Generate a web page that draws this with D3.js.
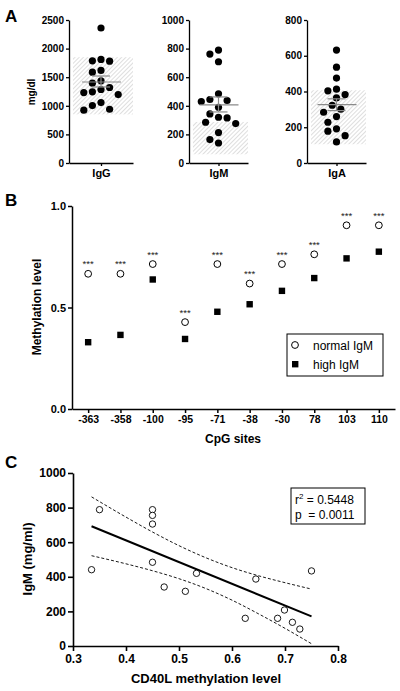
<!DOCTYPE html>
<html><head><meta charset="utf-8">
<script src="https://cdn.jsdelivr.net/npm/d3@7"></script>
<style>body{margin:0;background:#fff;} svg{display:block;font-family:"Liberation Sans",Arial,sans-serif;}</style>
</head><body><svg id="chart" width="400" height="691"></svg>
<script>
// ---------- Panel A data ----------
const igNames = ["IgG", "IgM", "IgA"];
const igGValues = [2360,1810,1787,1781,1618,1588,1437,1396,1320,1285,1244,1232,1197,1057,1004,940,923];
const igMValues = [790,762,708,484,444,437,430,390,343,320,315,285,276,213,164,140];
const igAValues = [632,536,475,413,404,383,364,323,301,284,260,228,191,178,153,118];
const igMean = [1416, 406, 327];
const igSemHi = [1521, 462, 359];
const igSemLo = [1329, 357, 293];
const igRefHi = [1850, 287, 407];
const igRefLo = [850, 61, 105];
const igAxisMax = [2500, 1000, 800];
const igTickStep = [500, 200, 200];

// ---------- Panel B data ----------
const cpgSites = ["-363","-358","-100","-95","-71","-38","-30","78","103","110"];
const normalIgM = [0.666,0.666,0.714,0.428,0.714,0.618,0.714,0.762,0.905,0.905];
const highIgM = [0.329,0.365,0.638,0.345,0.479,0.516,0.582,0.645,0.742,0.775];
const sigMarks = ["***","***","***","***","***","***","***","***","***","***"];
const methTicks = [0, 0.5, 1.0];

// ---------- Panel C data ----------
const cd40lMeth = [0.335,0.350,0.450,0.450,0.450,0.450,0.472,0.512,0.533,0.625,0.645,0.686,0.699,0.714,0.728,0.750];
const cIgM = [441,788,788,755,705,484,341,316,420,160,387,160,208,137,98,434];
const fitX = [0.335, 0.75];
const fitY = [692, 171];
const bandX = [0.335,0.40,0.45,0.50,0.55,0.60,0.65,0.70,0.75];
const bandUpper = [862,745,659,580,511,453,406,366,329];
const bandLower = [522,475,435,389,333,265,186,102,13];
const cXTicks = [0.3,0.4,0.5,0.6,0.7,0.8];
const cYTicks = [0,200,400,600,800,1000];

const svg = d3.select("#chart");
const FONT = '"Liberation Sans", Arial, sans-serif';

function styleAxis(g, size, weight, sw) {
  g.selectAll("text").attr("font-family", FONT).attr("font-size", size).attr("font-weight", weight).attr("fill", "#000");
  g.selectAll("path,line").attr("stroke", "#000").attr("stroke-width", sw);
}

const defs = svg.append("defs");
const pat = defs.append("pattern").attr("id", "hatch").attr("patternUnits", "userSpaceOnUse")
  .attr("width", 3).attr("height", 3).attr("patternTransform", "rotate(45)");
pat.append("rect").attr("width", 3).attr("height", 3).attr("fill", "#fff");
pat.append("line").attr("x1", 0).attr("y1", 0).attr("x2", 0).attr("y2", 3).attr("stroke", "#bdbdbd").attr("stroke-width", 1);

// ---------- Panel A ----------
svg.append("text").attr("x", 5).attr("y", 22).attr("font-size", 17).attr("font-weight", "bold").attr("font-family", FONT).text("A");
const igData = [igGValues, igMValues, igAValues];
const igX0 = [69, 189, 307];
const igX1 = [133, 248, 366];
const igTop = 20, igBottom = 163;

igNames.forEach((name, i) => {
  const y = d3.scaleLinear().domain([0, igAxisMax[i]]).range([igBottom, igTop]);
  const x = d3.scalePoint().domain([name]).range([igX0[i], igX1[i]]).padding(0.5);
  const cx = x(name);
  const g = svg.append("g");
  g.append("rect").attr("x", igX0[i] + 4).attr("width", igX1[i] - igX0[i] - 4)
    .attr("y", y(igRefHi[i])).attr("height", y(igRefLo[i]) - y(igRefHi[i])).attr("fill", "url(#hatch)");
  const step = 4.3, minD = 8.3;
  const placed = [];
  const sorted = igData[i].slice().sort((a, b) => b - a);
  sorted.forEach(v => {
    const py = y(v);
    let off = 0;
    for (let k = 0; k < 20; k++) {
      const cand = k === 0 ? 0 : (k % 2 ? -Math.ceil(k / 2) : Math.ceil(k / 2)) * step;
      if (placed.every(p => Math.hypot(p[0] - cand, p[1] - py) >= minD)) { off = cand; break; }
    }
    placed.push([off, py]);
  });
  g.selectAll("circle").data(placed).join("circle")
    .attr("cx", d => cx + d[0]).attr("cy", d => d[1]).attr("r", 3.6).attr("fill", "#000");
  g.append("line").attr("x1", cx - 19).attr("x2", cx + 20).attr("y1", y(igMean[i])).attr("y2", y(igMean[i])).attr("stroke", "#8a8a8a").attr("stroke-width", 1.2);
  g.append("line").attr("x1", cx).attr("x2", cx).attr("y1", y(igSemHi[i])).attr("y2", y(igSemLo[i])).attr("stroke", "#8a8a8a").attr("stroke-width", 1.2);
  [igSemHi[i], igSemLo[i]].forEach(v => g.append("line").attr("x1", cx - 9).attr("x2", cx + 9).attr("y1", y(v)).attr("y2", y(v)).attr("stroke", "#8a8a8a").attr("stroke-width", 1.2));
  const ticks = d3.range(0, igAxisMax[i] + 1, igTickStep[i]);
  const ya = g.append("g").attr("transform", `translate(${igX0[i]},0)`)
    .call(d3.axisLeft(y).tickValues(ticks).tickSize(3).tickPadding(2).tickSizeOuter(0).tickFormat(d3.format("d")));
  styleAxis(ya, 10, "bold", 1.3);
  const xa = g.append("g").attr("transform", `translate(0,${igBottom})`)
    .call(d3.axisBottom(x).tickSize(3).tickPadding(3).tickSizeOuter(0));
  styleAxis(xa, 11, "bold", 1.3);
});
svg.append("text").attr("transform", "translate(35,92) rotate(-90)").attr("text-anchor", "middle")
  .attr("font-size", 10).attr("font-weight", "bold").attr("font-family", FONT).text("mg/dl");

// ---------- Panel B ----------
svg.append("text").attr("x", 5).attr("y", 206).attr("font-size", 17).attr("font-weight", "bold").attr("font-family", FONT).text("B");
const bx = d3.scalePoint().domain(cpgSites).range([72, 395]).padding(0.5);
const by = d3.scaleLinear().domain([0, 1]).range([409, 206]);
const gB = svg.append("g");
const byA = gB.append("g").attr("transform", "translate(72,0)")
  .call(d3.axisLeft(by).tickValues(methTicks).tickSize(4).tickPadding(2).tickSizeOuter(0).tickFormat(d3.format(".1f")));
styleAxis(byA, 11, "bold", 1.5);
const bxA = gB.append("g").attr("transform", "translate(0,409)")
  .call(d3.axisBottom(bx).tickSize(4).tickPadding(3).tickSizeOuter(0));
styleAxis(bxA, 10.5, "bold", 1.5);
gB.selectAll("rect.hi").data(cpgSites).join("rect").attr("class", "hi")
  .attr("x", d => bx(d) - 3.2).attr("y", (d, i) => by(highIgM[i]) - 3.2).attr("width", 6.4).attr("height", 6.4).attr("fill", "#000");
gB.selectAll("circle.no").data(cpgSites).join("circle").attr("class", "no")
  .attr("cx", d => bx(d)).attr("cy", (d, i) => by(normalIgM[i])).attr("r", 3.4).attr("fill", "#fff").attr("stroke", "#000").attr("stroke-width", 1);
gB.selectAll("text.sig").data(cpgSites).join("text").attr("class", "sig")
  .attr("x", d => bx(d)).attr("y", (d, i) => by(normalIgM[i]) - 6.5).attr("text-anchor", "middle")
  .attr("font-size", 9.5).attr("font-family", FONT).attr("fill", "#222").text((d, i) => sigMarks[i]);
gB.append("text").attr("transform", "translate(41,307) rotate(-90)").attr("text-anchor", "middle")
  .attr("font-size", 12).attr("font-weight", "bold").attr("font-family", FONT).text("Methylation level");
gB.append("text").attr("x", 233).attr("y", 443).attr("text-anchor", "middle")
  .attr("font-size", 12).attr("font-weight", "bold").attr("font-family", FONT).text("CpG sites");
const lg = gB.append("g");
lg.append("rect").attr("x", 287).attr("y", 334).attr("width", 96).attr("height", 42).attr("fill", "#fff").attr("stroke", "#000").attr("stroke-width", 1);
lg.append("circle").attr("cx", 295).attr("cy", 345).attr("r", 3.4).attr("fill", "#fff").attr("stroke", "#000");
lg.append("rect").attr("x", 292).attr("y", 361).attr("width", 6.4).attr("height", 6.4).attr("fill", "#000");
lg.append("text").attr("x", 313).attr("y", 349.5).attr("font-size", 12).attr("font-family", FONT).text("normal IgM");
lg.append("text").attr("x", 313).attr("y", 368.5).attr("font-size", 12).attr("font-family", FONT).text("high IgM");

// ---------- Panel C ----------
svg.append("text").attr("x", 5).attr("y", 468).attr("font-size", 17).attr("font-weight", "bold").attr("font-family", FONT).text("C");
const cx = d3.scaleLinear().domain([0.3, 0.8]).range([73, 338]);
const cy = d3.scaleLinear().domain([0, 1000]).range([646, 473]);
const gC = svg.append("g");
const cyA = gC.append("g").attr("transform", "translate(73,0)")
  .call(d3.axisLeft(cy).tickValues(cYTicks).tickSize(5).tickPadding(2).tickSizeOuter(0).tickFormat(d3.format("d")));
styleAxis(cyA, 12, "bold", 1.6);
const cxA = gC.append("g").attr("transform", "translate(0,646)")
  .call(d3.axisBottom(cx).tickValues(cXTicks).tickSize(5).tickPadding(3).tickSizeOuter(0).tickFormat(d3.format(".1f")));
styleAxis(cxA, 12, "bold", 1.6);
const bandLine = d3.line().x(d => cx(d[0])).y(d => cy(d[1])).curve(d3.curveMonotoneX);
gC.append("path").attr("d", bandLine(bandX.map((x, i) => [x, bandUpper[i]]))).attr("fill", "none").attr("stroke", "#000").attr("stroke-width", 0.9).attr("stroke-dasharray", "3,2");
gC.append("path").attr("d", bandLine(bandX.map((x, i) => [x, bandLower[i]]))).attr("fill", "none").attr("stroke", "#000").attr("stroke-width", 0.9).attr("stroke-dasharray", "3,2");
gC.append("path").attr("d", d3.line().x(d => cx(d[0])).y(d => cy(d[1]))(fitX.map((x, i) => [x, fitY[i]]))).attr("fill", "none").attr("stroke", "#000").attr("stroke-width", 2);
gC.selectAll("circle.pt").data(cd40lMeth).join("circle").attr("class", "pt")
  .attr("cx", d => cx(d)).attr("cy", (d, i) => cy(cIgM[i])).attr("r", 3.2).attr("fill", "#fff").attr("stroke", "#000").attr("stroke-width", 0.9);
gC.append("text").attr("transform", "translate(32,559) rotate(-90)").attr("text-anchor", "middle")
  .attr("font-size", 13).attr("font-weight", "bold").attr("font-family", FONT).text("IgM (mg/ml)");
gC.append("text").attr("x", 206).attr("y", 683).attr("text-anchor", "middle")
  .attr("font-size", 13).attr("font-weight", "bold").attr("font-family", FONT).text("CD40L methylation level");
gC.append("rect").attr("x", 291).attr("y", 488).attr("width", 74).attr("height", 36).attr("fill", "#fff").attr("stroke", "#000").attr("stroke-width", 1);
const t1 = gC.append("text").attr("x", 295).attr("y", 504).attr("font-size", 12).attr("font-family", FONT);
t1.append("tspan").text("r");
t1.append("tspan").attr("font-size", 8).attr("dy", -5).text("2");
t1.append("tspan").attr("dy", 5).text(" = 0.5448");
gC.append("text").attr("x", 295).attr("y", 519).attr("font-size", 12).attr("font-family", FONT).text("p\u00A0 = 0.0011");
</script></body></html>
